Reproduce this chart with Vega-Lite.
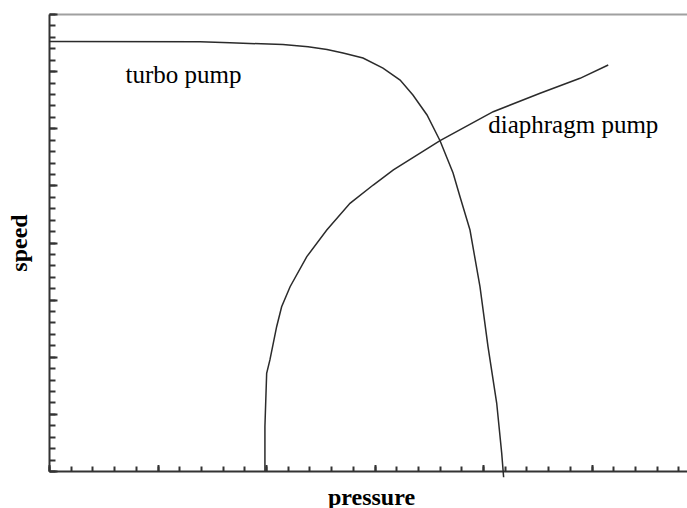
{
  "$schema": "https://vega.github.io/schema/vega-lite/v6.json",
  "width": 638,
  "height": 457,
  "autosize": {"type": "none"},
  "padding": {"left": 49, "top": 14, "right": 0, "bottom": 37},
  "background": "white",
  "config": {
    "view": {"stroke": null},
    "axis": {"grid": false, "labels": false, "tickColor": "#333333", "domainColor": "#333333", "tickWidth": 2, "domainWidth": 2}
  },
  "datasets": {
    "curves": [
      {"pump": "turbo", "seq": 1, "pressure": 0, "speed": 37.59},
      {"pump": "turbo", "seq": 2, "pressure": 6.96, "speed": 37.57},
      {"pump": "turbo", "seq": 3, "pressure": 8.34, "speed": 37.48},
      {"pump": "turbo", "seq": 4, "pressure": 10.78, "speed": 37.33},
      {"pump": "turbo", "seq": 5, "pressure": 11.94, "speed": 37.13},
      {"pump": "turbo", "seq": 6, "pressure": 12.81, "speed": 36.89},
      {"pump": "turbo", "seq": 7, "pressure": 13.55, "speed": 36.59},
      {"pump": "turbo", "seq": 8, "pressure": 14.47, "speed": 36.15},
      {"pump": "turbo", "seq": 9, "pressure": 15.39, "speed": 35.27},
      {"pump": "turbo", "seq": 10, "pressure": 16.18, "speed": 34.22},
      {"pump": "turbo", "seq": 11, "pressure": 16.77, "speed": 32.91},
      {"pump": "turbo", "seq": 12, "pressure": 17.42, "speed": 31.16},
      {"pump": "turbo", "seq": 13, "pressure": 18.02, "speed": 28.91},
      {"pump": "turbo", "seq": 14, "pressure": 18.62, "speed": 26.08},
      {"pump": "turbo", "seq": 15, "pressure": 18.94, "speed": 24.01},
      {"pump": "turbo", "seq": 16, "pressure": 19.4, "speed": 21.09},
      {"pump": "turbo", "seq": 17, "pressure": 19.86, "speed": 16.13},
      {"pump": "turbo", "seq": 18, "pressure": 20.23, "speed": 10.88},
      {"pump": "turbo", "seq": 19, "pressure": 20.63, "speed": 5.95},
      {"pump": "turbo", "seq": 20, "pressure": 20.86, "speed": 1.58},
      {"pump": "turbo", "seq": 21, "pressure": 20.95, "speed": -0.55},
      {"pump": "diaphragm", "seq": 1, "pressure": 9.95, "speed": 0},
      {"pump": "diaphragm", "seq": 2, "pressure": 9.95, "speed": 3.88},
      {"pump": "diaphragm", "seq": 3, "pressure": 10.03, "speed": 8.55},
      {"pump": "diaphragm", "seq": 4, "pressure": 10.18, "speed": 9.72},
      {"pump": "diaphragm", "seq": 5, "pressure": 10.49, "speed": 12.63},
      {"pump": "diaphragm", "seq": 6, "pressure": 10.72, "speed": 14.38},
      {"pump": "diaphragm", "seq": 7, "pressure": 11.11, "speed": 16.13},
      {"pump": "diaphragm", "seq": 8, "pressure": 11.88, "speed": 18.76},
      {"pump": "diaphragm", "seq": 9, "pressure": 12.8, "speed": 21.09},
      {"pump": "diaphragm", "seq": 10, "pressure": 13.87, "speed": 23.43},
      {"pump": "diaphragm", "seq": 11, "pressure": 14.94, "speed": 25.03},
      {"pump": "diaphragm", "seq": 12, "pressure": 15.87, "speed": 26.35},
      {"pump": "diaphragm", "seq": 13, "pressure": 18.02, "speed": 28.91},
      {"pump": "diaphragm", "seq": 14, "pressure": 20.47, "speed": 31.45},
      {"pump": "diaphragm", "seq": 15, "pressure": 22.63, "speed": 33.06},
      {"pump": "diaphragm", "seq": 16, "pressure": 24.47, "speed": 34.37},
      {"pump": "diaphragm", "seq": 17, "pressure": 25.77, "speed": 35.54}
    ],
    "labels": [
      {"text": "turbo pump", "pressure": 6.2, "speed": 33.96},
      {"text": "diaphragm pump", "pressure": 24.16, "speed": 29.61}
    ]
  },
  "layer": [
    {
      "data": {"name": "curves"},
      "transform": [{"filter": "datum.pump === 'turbo'"}],
      "mark": {"type": "line", "color": "#2b2b2b", "strokeWidth": 1.5},
      "encoding": {
        "x": {
          "field": "pressure", "type": "quantitative",
          "scale": {"domain": [0, 29.4], "nice": false, "zero": false},
          "axis": {
            "orient": "bottom",
            "values": [0,1,2,3,4,5,6,7,8,9,10,11,12,13,14,15,16,17,18,19,20,21,22,23,24,25,26,27,28,29],
            "tickSize": -5,
            "title": "pressure",
            "titleFont": "Liberation Serif", "titleFontWeight": "bold", "titleFontSize": 24, "titleColor": "#000000",
            "titleBaseline": "alphabetic", "titleAlign": "center", "titleX": 322, "titleY": 33
          }
        },
        "y": {
          "field": "speed", "type": "quantitative",
          "scale": {"domain": [0, 40], "nice": false, "zero": false},
          "axis": {
            "orient": "left",
            "values": [0,1,2,3,4,5,6,7,8,9,10,11,12,13,14,15,16,17,18,19,20,21,22,23,24,25,26,27,28,29,30,31,32,33,34,35,36,37,38,39,40],
            "tickSize": -6,
            "title": "speed",
            "titleFont": "Liberation Serif", "titleFontWeight": "bold", "titleFontSize": 24, "titleColor": "#000000",
            "titleAngle": -90, "titleBaseline": "alphabetic", "titleAlign": "center", "titleX": -23, "titleY": 228.5
          }
        },
        "order": {"field": "seq", "type": "quantitative"}
      }
    },
    {
      "data": {"name": "curves"},
      "transform": [{"filter": "datum.pump === 'diaphragm'"}],
      "mark": {"type": "line", "color": "#2b2b2b", "strokeWidth": 1.5},
      "encoding": {
        "x": {
          "field": "pressure", "type": "quantitative",
          "axis": {"orient": "bottom", "values": [0,5,10,15,20,25], "tickSize": -6.5, "domain": false, "title": null}
        },
        "y": {
          "field": "speed", "type": "quantitative",
          "axis": {"orient": "left", "values": [0,5,10,15,20,25,30,35,40], "tickSize": -8, "domain": false, "title": null}
        },
        "order": {"field": "seq", "type": "quantitative"}
      }
    },
    {
      "data": {"name": "labels"},
      "mark": {"type": "text", "font": "Liberation Serif", "fontSize": 25, "color": "#000000", "align": "center", "baseline": "alphabetic"},
      "encoding": {
        "x": {
          "field": "pressure", "type": "quantitative",
          "axis": {"orient": "top", "ticks": false, "domainColor": "#a0a0a0", "domainWidth": 2, "title": null}
        },
        "y": {"field": "speed", "type": "quantitative", "axis": null},
        "text": {"field": "text"}
      }
    }
  ],
  "resolve": {"axis": {"x": "independent", "y": "independent"}}
}
